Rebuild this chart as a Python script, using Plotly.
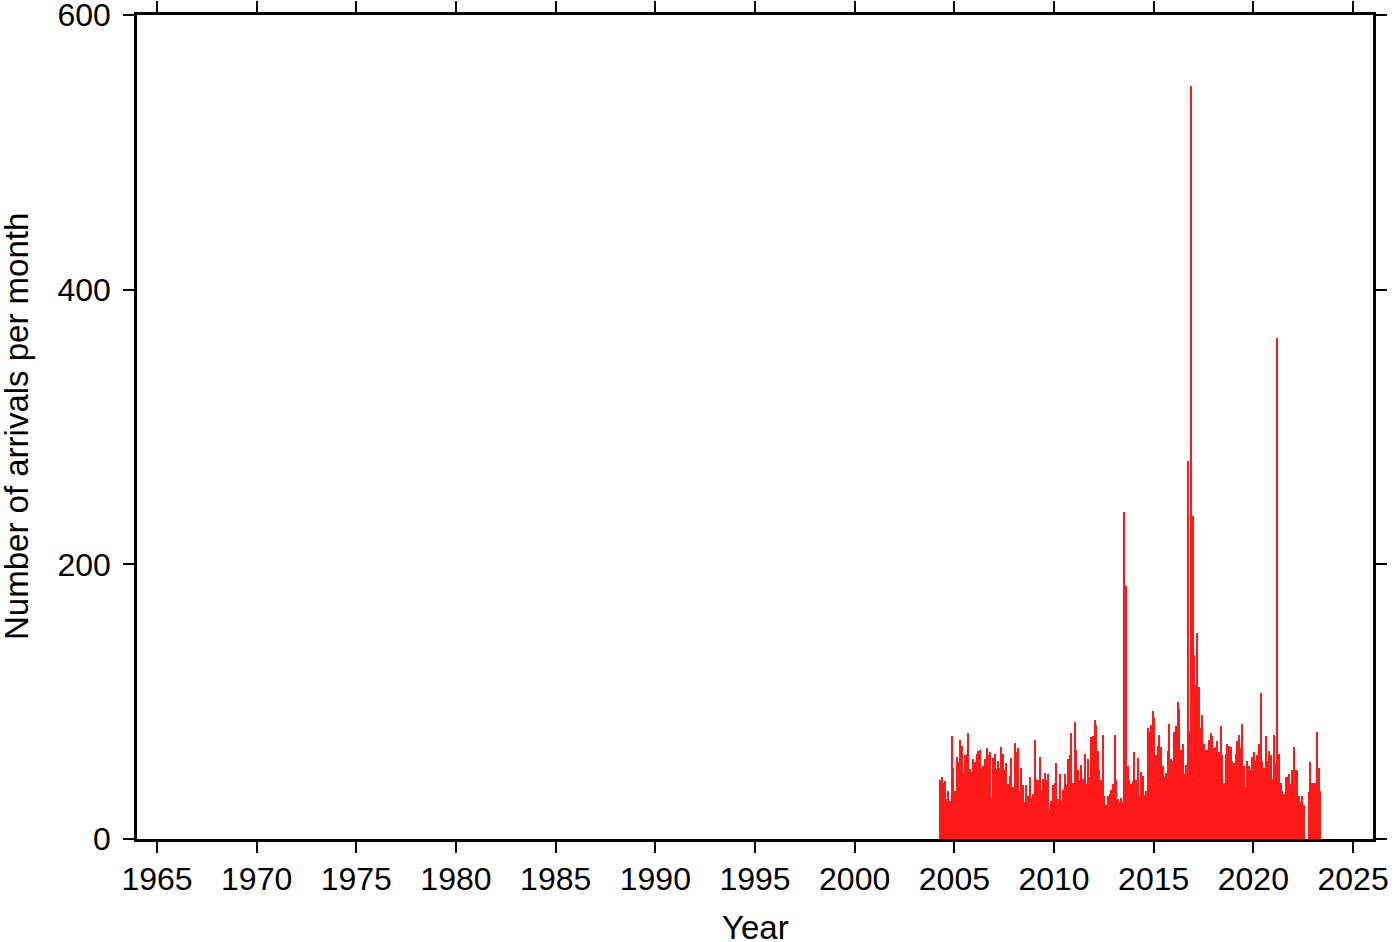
import pandas as pd
import plotly.graph_objects as go

start_month = "2004-04-01"
arrivals = [
    43, 45, 41, 42, 29, 35, 28, 75, 52, 35, 60, 56, 72, 68, 48, 61, 62, 77, 51, 49,
    58, 56, 62, 64, 65, 51, 53, 58, 66, 61, 63, 30, 59, 62, 51, 57, 52,
    67, 62, 50, 55, 40, 46, 59, 38, 70, 63, 66, 35, 52, 39, 27, 39, 31, 45, 30, 33,
    72, 44, 43, 60, 35, 44, 48, 43, 47, 21, 28, 39, 41, 55, 29, 47, 28, 36,
    47, 39, 58, 61, 77, 41, 85, 65, 50, 42, 54, 44, 62, 40, 58, 45, 74, 75, 87, 83,
    64, 50, 43, 76, 31, 25, 31, 33, 36, 40, 76, 43, 29, 27,
    30, 27, 238, 184,
    53, 43, 40, 42, 63, 43, 59, 31, 49, 46, 32, 35, 81, 78, 83, 93, 88, 61, 68, 76,
    67, 53, 45, 48, 64, 84, 58, 57, 78, 82, 100, 95, 65, 69, 47, 54,
    275, 79, 548, 235, 134, 112, 150, 111,
    81, 90, 69, 65, 65, 72, 77, 75, 66, 67, 71, 63, 82, 61, 41, 62, 69, 68, 67, 57,
    55, 62, 71, 76, 66, 84, 53, 38, 57, 53, 50, 60, 63, 57, 61,
    69, 106, 57, 52, 75, 57, 64, 61, 44, 76, 55, 365, 62, 41, 35, 33, 45, 45, 47, 40,
    50, 67, 50, 50, 31, 27, 31, 25, 0, 0, 34, 56, 41, 41, 41, 78, 52, 35,
]
months = pd.date_range(start_month, periods=len(arrivals), freq="MS")

x_title = "Year"
y_title = "Number of arrivals per month"
FONT = "Liberation Sans, Arial, Helvetica, sans-serif"

fig = go.Figure(
    go.Bar(
        x=months,
        y=arrivals,
        xperiod="M1",
        xperiodalignment="middle",
        width=25 * 24 * 3600 * 1000,
        marker=dict(color="#ff1a1a", line=dict(width=0)),
    )
)

axis_common = dict(
    showline=True,
    linecolor="black",
    linewidth=2.5,
    mirror="allticks",
    ticks="outside",
    ticklen=11,
    tickwidth=1.5,
    tickcolor="black",
    showgrid=False,
    zeroline=False,
    automargin=False,
    ticklabeloverflow="allow",
    tickfont=dict(family=FONT, size=32, color="black"),
)

L, R, T, B = 137, 27, 15, 103
PW, PH = 1400 - L - R, 942 - T - B
title_font = dict(family=FONT, size=33, color="black")
fig.update_layout(
    width=1400,
    height=942,
    margin=dict(l=L, r=R, t=T, b=B),
    paper_bgcolor="white",
    plot_bgcolor="white",
    showlegend=False,
    bargap=0,
    xaxis=dict(
        axis_common,
        type="date",
        range=["1964-01-01", "2026-01-01"],
        tick0="1965-01-01",
        dtick="M60",
        tickformat="%Y",
        ticklabelstandoff=-1,
    ),
    yaxis=dict(
        axis_common,
        range=[0, 600],
        tickvals=[0, 200, 400, 600],
        ticklabelstandoff=6,
    ),
    annotations=[
        dict(
            text=y_title,
            xref="paper",
            yref="paper",
            x=-(L - 16) / PW,
            y=0.5,
            xanchor="center",
            yanchor="middle",
            textangle=-90,
            showarrow=False,
            font=title_font,
        ),
        dict(
            text=x_title,
            xref="paper",
            yref="paper",
            x=0.5,
            y=-(928 - (T + PH)) / PH,
            xanchor="center",
            yanchor="middle",
            showarrow=False,
            font=title_font,
        ),
    ],
)

fig.write_html(
    "out.html",
    config={"displayModeBar": False},
    post_script="document.body.style.margin='0';",
)
